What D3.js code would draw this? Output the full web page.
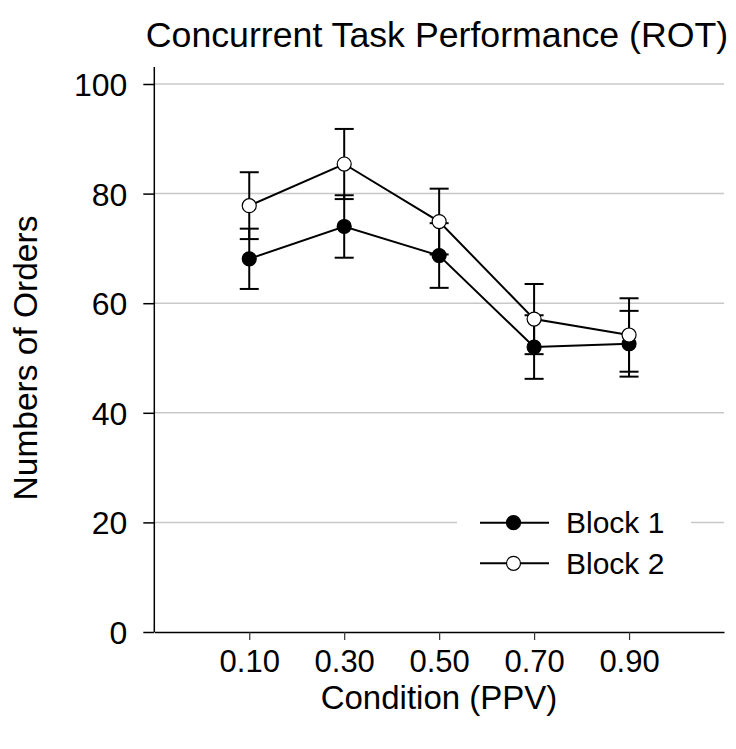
<!DOCTYPE html>
<html>
<head>
<meta charset="utf-8">
<script src="https://cdn.jsdelivr.net/npm/d3@7"></script>
<style>
  html, body { margin: 0; padding: 0; background: #fff; }
  svg text { font-family: "Liberation Sans", Arial, sans-serif; fill: #000; }
</style>
</head>
<body>
<svg id="chart" width="736" height="749"></svg>
<script>
// PPV conditions and their tick labels
const conditions = [0.10, 0.30, 0.50, 0.70, 0.90];
const conditionLabels = ["0.10", "0.30", "0.50", "0.70", "0.90"];

// Mean number of orders and error (±) per condition
const block1Mean = [68.1, 74.0, 68.7, 52.0, 52.6];
const block1Err  = [5.5, 5.7, 5.9, 5.8, 6.0];
const block2Mean = [77.8, 85.4, 74.9, 57.1, 54.2];
const block2Err  = [6.1, 6.4, 6.0, 6.4, 6.7];

const yTicks = [0, 20, 40, 60, 80, 100];
const seriesNames = ["Block 1", "Block 2"];

const svg = d3.select("#chart");

const x = d3.scaleLinear().domain([-0.1, 1.1]).range([154.3, 724]);
const y = d3.scaleLinear().domain([0, 100]).range([632, 84]);
const yTop = 67;

// horizontal gridlines
svg.append("g")
  .selectAll("line")
  .data(yTicks.filter(d => d > 0))
  .join("line")
  .attr("x1", x.range()[0]).attr("x2", x.range()[1])
  .attr("y1", d => y(d)).attr("y2", d => y(d))
  .attr("stroke", "#c8c8c8").attr("stroke-width", 1.5);

// legend background masks the gridline behind it
svg.append("rect")
  .attr("x", 457).attr("y", 500).attr("width", 234).attr("height", 86)
  .attr("fill", "#fff");

// y axis
const yAxis = svg.append("g")
  .attr("transform", `translate(${x.range()[0]},0)`)
  .call(d3.axisLeft(y).tickValues(yTicks).tickSize(11).tickSizeOuter(0).tickPadding(16));
yAxis.select(".domain").attr("d", `M0,${y(0)}V${yTop}`).attr("stroke", "#000").attr("stroke-width", 1.5);
yAxis.selectAll(".tick line").attr("stroke", "#000").attr("stroke-width", 1.5);
yAxis.selectAll(".tick text").attr("font-size", 32).attr("dy", "0.36em");

// x axis
const xAxis = svg.append("g")
  .attr("transform", `translate(0,${y(0)})`)
  .call(d3.axisBottom(x).tickValues(conditions)
    .tickFormat((d, i) => conditionLabels[i]).tickSize(8).tickSizeOuter(0).tickPadding(10));
xAxis.select(".domain").attr("stroke", "#000").attr("stroke-width", 1.5);
xAxis.selectAll(".tick line").attr("stroke", "#333").attr("stroke-width", 1.2);
xAxis.selectAll(".tick text").attr("font-size", 31).attr("dy", "0.71em");

// titles
svg.append("text")
  .attr("x", 437).attr("y", 47).attr("text-anchor", "middle")
  .attr("font-size", 35.7).text("Concurrent Task Performance (ROT)");

svg.append("text")
  .attr("x", 439).attr("y", 709).attr("text-anchor", "middle")
  .attr("font-size", 33).text("Condition (PPV)");

svg.append("text")
  .attr("transform", `translate(37,${(y(0) + y(100)) / 2}) rotate(-90)`)
  .attr("text-anchor", "middle")
  .attr("font-size", 33.5).text("Numbers of Orders");

// series
const series = [
  { name: seriesNames[0], mean: block1Mean, err: block1Err, fill: "#000" },
  { name: seriesNames[1], mean: block2Mean, err: block2Err, fill: "#fff" }
];
const rows = s => conditions.map((c, i) => ({ c, m: s.mean[i], e: s.err[i] }));
const capHalf = 9.5;

// error bars
series.forEach(s => {
  const g = svg.append("g").attr("stroke", "#000").attr("stroke-width", 2);
  rows(s).forEach(d => {
    g.append("line").attr("x1", x(d.c)).attr("x2", x(d.c))
      .attr("y1", y(d.m - d.e)).attr("y2", y(d.m + d.e));
    [d.m - d.e, d.m + d.e].forEach(v => {
      g.append("line").attr("x1", x(d.c) - capHalf).attr("x2", x(d.c) + capHalf)
        .attr("y1", y(v)).attr("y2", y(v));
    });
  });
});

// connecting lines
const line = d3.line().x(d => x(d.c)).y(d => y(d.m));
series.forEach(s => {
  svg.append("path").datum(rows(s)).attr("d", line)
    .attr("fill", "none").attr("stroke", "#000").attr("stroke-width", 2);
});

// markers
series.forEach(s => {
  svg.append("g").selectAll("circle").data(rows(s)).join("circle")
    .attr("cx", d => x(d.c)).attr("cy", d => y(d.m)).attr("r", 7)
    .attr("fill", s.fill).attr("stroke", "#000").attr("stroke-width", 1.2);
});

// legend
const legendRows = [522.7, 563.3];
series.forEach((s, i) => {
  const g = svg.append("g").attr("transform", `translate(0,${legendRows[i]})`);
  g.append("line").attr("x1", 480).attr("x2", 549).attr("y1", 0).attr("y2", 0)
    .attr("stroke", "#000").attr("stroke-width", 2);
  g.append("circle").attr("cx", 513.5).attr("cy", 0).attr("r", 7)
    .attr("fill", s.fill).attr("stroke", "#000").attr("stroke-width", 1.2);
  g.append("text").attr("x", 566).attr("y", 10.5).attr("font-size", 30).text(s.name);
});
</script>
</body>
</html>
